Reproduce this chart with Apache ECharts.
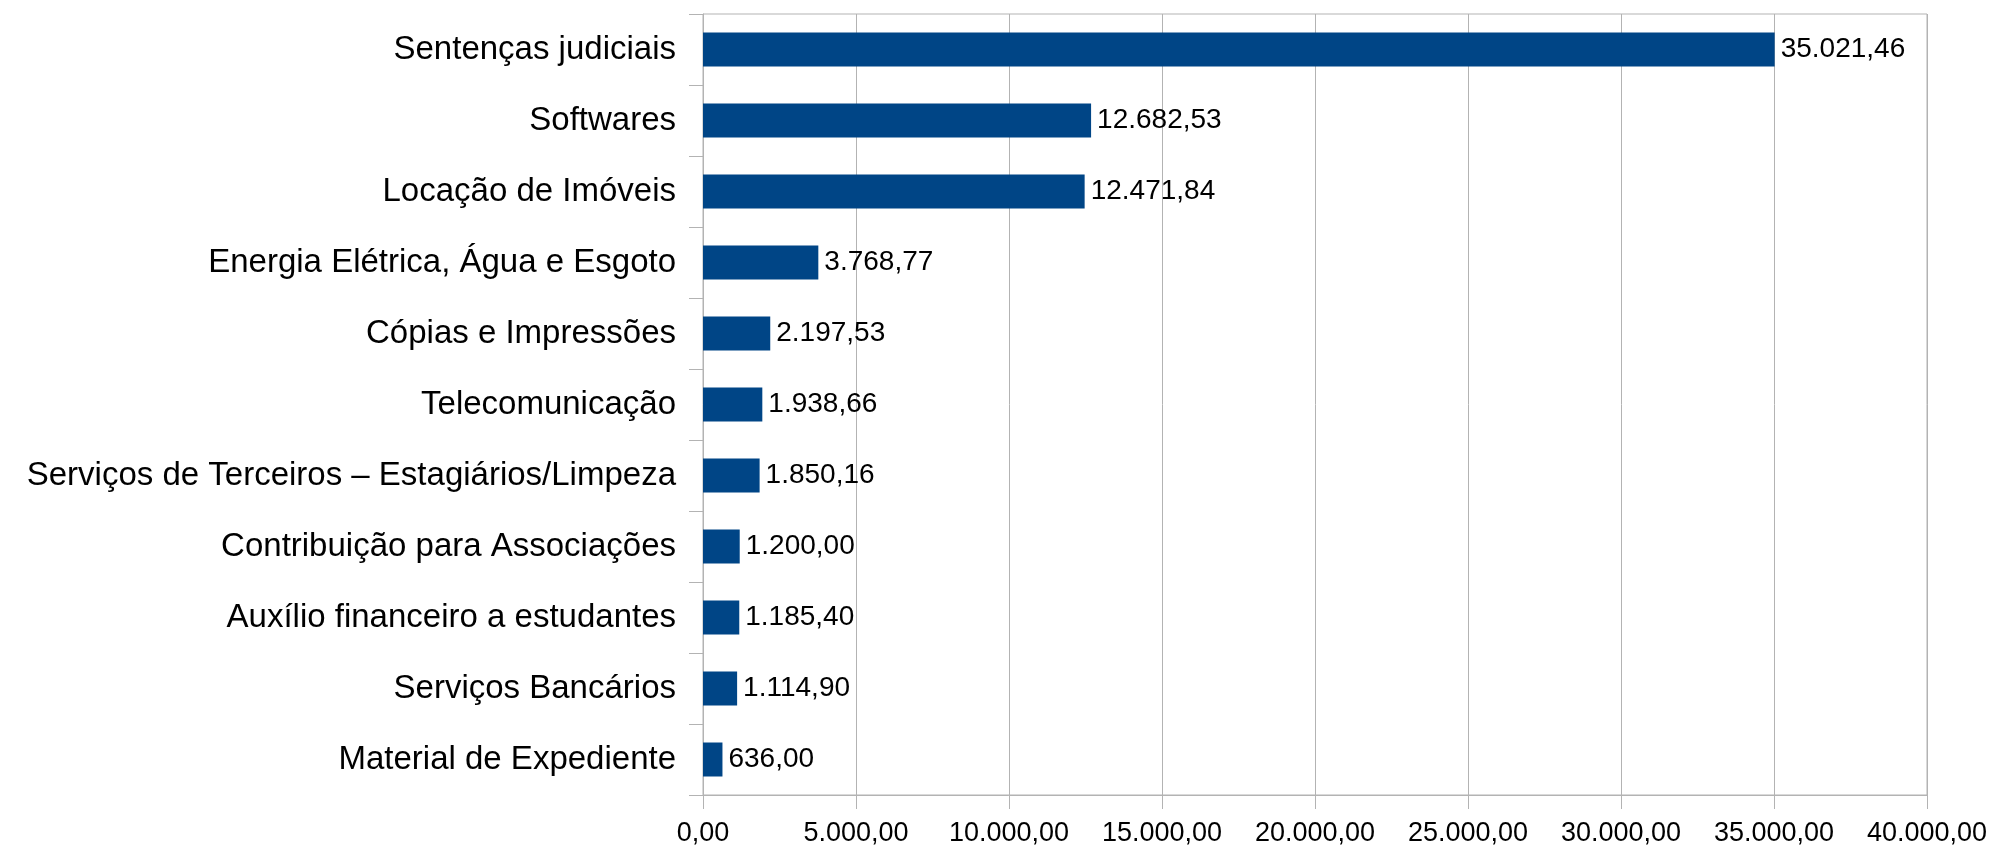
<!DOCTYPE html>
<html>
<head>
<meta charset="utf-8">
<script src="https://cdn.jsdelivr.net/npm/echarts@6/dist/echarts.min.js"></script>
<style>
  html, body { margin: 0; padding: 0; background: #fff; }
  #chart { width: 1993px; height: 847px; }
</style>
</head>
<body>
<div id="chart"></div>
<script>
// categories top to bottom
const categories = [
  'Sentenças judiciais',
  'Softwares',
  'Locação de Imóveis',
  'Energia Elétrica, Água e Esgoto',
  'Cópias e Impressões',
  'Telecomunicação',
  'Serviços de Terceiros – Estagiários/Limpeza',
  'Contribuição para Associações',
  'Auxílio financeiro a estudantes',
  'Serviços Bancários',
  'Material de Expediente'
]
const values = [35021.46, 12682.53, 12471.84, 3768.77, 2197.53, 1938.66, 1850.16, 1200.00, 1185.40, 1114.90, 636.00]
const xTicks = [0, 5000, 10000, 15000, 20000, 25000, 30000, 35000, 40000]

// 12345.6 -> "12.345,60"
const fmt = (v) => {
  const parts = Number(v).toFixed(2).split('.')
  const int = parts[0].replace(/\B(?=(\d{3})+(?!\d))/g, '.')
  return int + ',' + parts[1]
}

const myChart = echarts.init(document.getElementById('chart'))
const option = {
  animation: false,
  textStyle: { fontFamily: '"Liberation Sans", Arial, sans-serif' },
  grid: {
    left: 703,
    right: 66,
    top: 14,
    bottom: 51,
    show: true,
    borderColor: '#b3b3b3',
    borderWidth: 1
  },
  xAxis: {
    type: 'value',
    min: xTicks[0],
    max: xTicks[xTicks.length - 1],
    interval: 5000,
    axisLine: { show: true, lineStyle: { color: '#b3b3b3', width: 1 } },
    axisTick: { show: true, length: 14, lineStyle: { color: '#b3b3b3' } },
    splitLine: { show: true, lineStyle: { color: '#b3b3b3', width: 1 } },
    axisLabel: {
      color: '#000',
      fontSize: 27,
      margin: 25,
      formatter: (v) => fmt(v)
    }
  },
  yAxis: {
    type: 'category',
    inverse: true,
    data: categories,
    axisLine: { show: true, lineStyle: { color: '#b3b3b3', width: 1 } },
    axisTick: { show: true, length: 14, lineStyle: { color: '#b3b3b3' } },
    axisLabel: {
      color: '#000',
      fontSize: 33,
      margin: 27
    }
  },
  series: [
    {
      type: 'bar',
      data: values,
      barWidth: 34,
      itemStyle: { color: '#004586' },
      label: {
        show: true,
        position: 'right',
        distance: 6,
        color: '#000',
        fontSize: 28,
        formatter: (p) => fmt(p.value)
      }
    }
  ]
}
myChart.setOption(option)

window.addEventListener('resize', () => {
  myChart.resize()
})
</script>
</body>
</html>
